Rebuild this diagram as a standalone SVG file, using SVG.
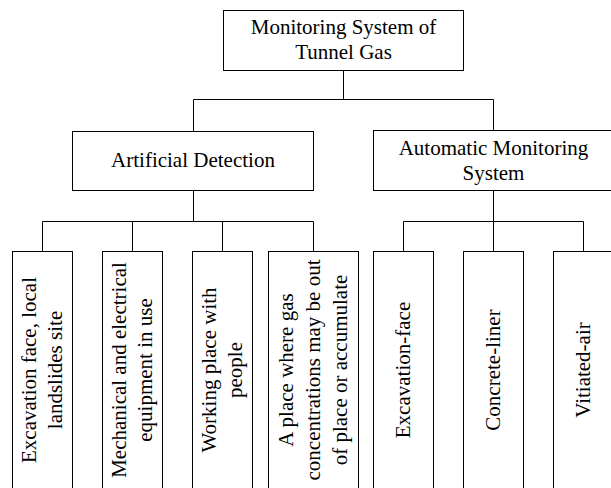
<svg xmlns="http://www.w3.org/2000/svg" width="611" height="488" viewBox="0 0 611 488">
<style>
rect{fill:#fff;stroke:#000;stroke-width:1}
text{font-family:"Liberation Serif","Times New Roman",serif;font-size:21px;fill:#000;text-anchor:middle}
#connectors path{fill:none;stroke:#000;stroke-width:1}
</style>
<g id="connectors">
<path d="M343.5 70V99.5M193.5 99.5H493.5M193.5 99.5V131M493.5 99.5V130"/>
<path d="M193.5 190V221.5M42.5 221.5H313.5M42.5 221.5V251M132.5 221.5V251M222.5 221.5V251M313.5 221.5V251"/>
<path d="M493.5 190V251M403.5 221.5H583.5M403.5 221.5V251M583.5 221.5V251"/>
</g>
<g id="root">
<rect x="223.5" y="10.5" width="240" height="60"/>
<text x="343.5" y="34">Monitoring System of</text>
<text x="343.5" y="59">Tunnel Gas</text>
</g>
<g id="artificial">
<rect x="72.5" y="131.5" width="241" height="59"/>
<text x="193" y="167">Artificial Detection</text>
</g>
<g id="automatic">
<rect x="373.5" y="130.5" width="240" height="60"/>
<text x="493.5" y="155">Automatic Monitoring</text>
<text x="493.5" y="180">System</text>
</g>
<g id="leaf1">
<rect x="12.5" y="251.5" width="60" height="240"/>
<text transform="translate(36,370) rotate(-90)">Excavation face, local</text>
<text transform="translate(62,370) rotate(-90)">landslides site</text>
</g>
<g id="leaf2">
<rect x="102.5" y="251.5" width="60" height="240"/>
<text transform="translate(126,370) rotate(-90)">Mechanical and electrical</text>
<text transform="translate(152,370) rotate(-90)">equipment in use</text>
</g>
<g id="leaf3">
<rect x="192.5" y="251.5" width="60" height="240"/>
<text transform="translate(216,370) rotate(-90)">Working place with</text>
<text transform="translate(242,370) rotate(-90)">people</text>
</g>
<g id="leaf4">
<rect x="268.5" y="251.5" width="90" height="240"/>
<text transform="translate(293,370) rotate(-90)">A place where gas</text>
<text transform="translate(320,370) rotate(-90)">concentrations may be out</text>
<text transform="translate(347,370) rotate(-90)">of place or accumulate</text>
</g>
<g id="leaf5">
<rect x="373.5" y="251.5" width="60" height="240"/>
<text transform="translate(410,370) rotate(-90)">Excavation-face</text>
</g>
<g id="leaf6">
<rect x="463.5" y="251.5" width="60" height="240"/>
<text transform="translate(500,370) rotate(-90)">Concrete-liner</text>
</g>
<g id="leaf7">
<rect x="553.5" y="251.5" width="60" height="240"/>
<text transform="translate(590,370) rotate(-90)">Vitiated-air</text>
</g>
</svg>
